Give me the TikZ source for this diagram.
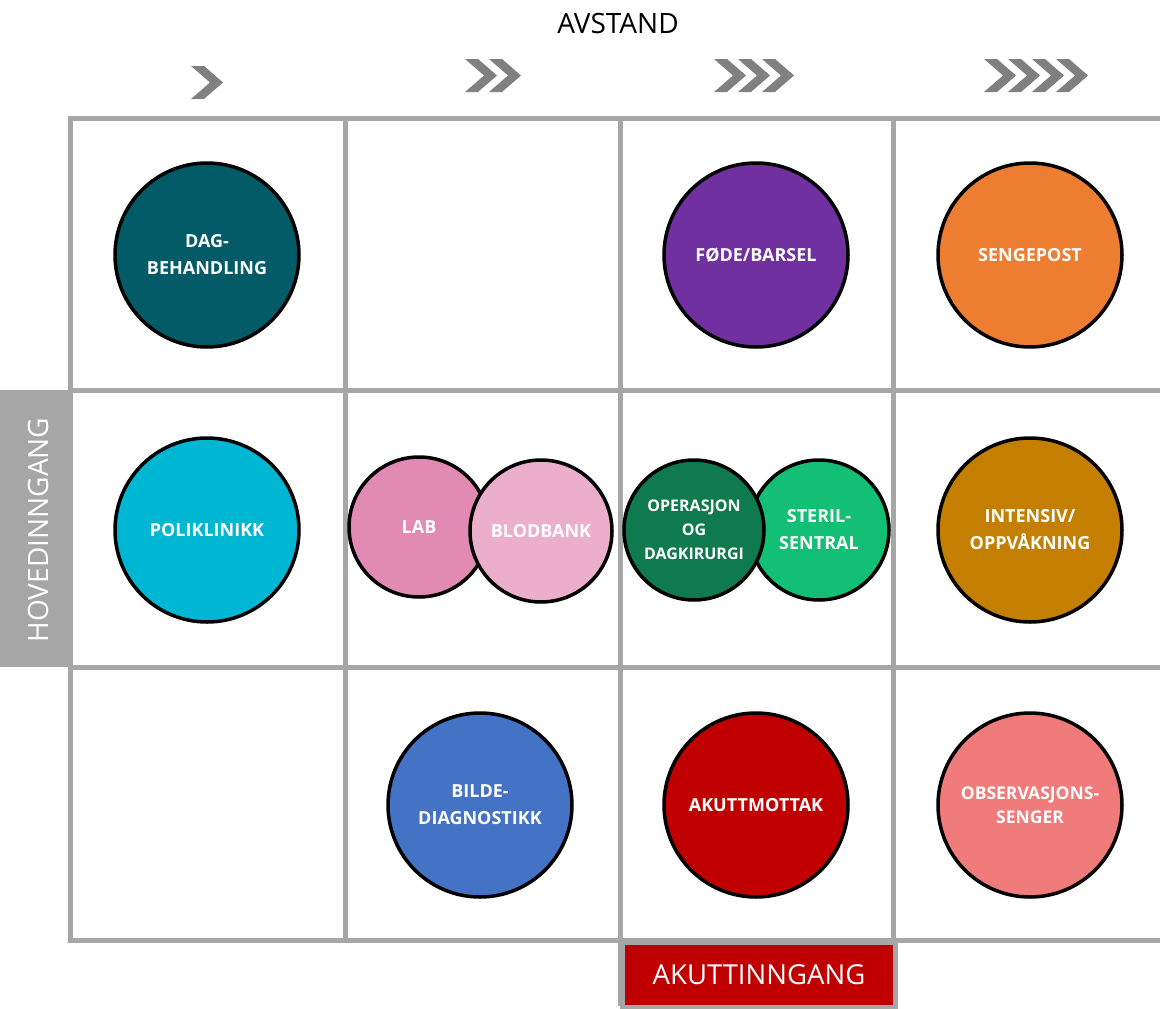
\documentclass[tikz,border=0pt]{standalone}
\usepackage{fontspec}
\setmainfont{Open Sans}
\definecolor{gridgray}{HTML}{A6A6A6}
\definecolor{chevgray}{HTML}{808080}
\definecolor{cDag}{HTML}{035B68}
\definecolor{cFode}{HTML}{7030A0}
\definecolor{cSenge}{HTML}{ED7D31}
\definecolor{cPoli}{HTML}{00B7D3}
\definecolor{cLab}{HTML}{E08AB4}
\definecolor{cBlod}{HTML}{EBAFCB}
\definecolor{cOper}{HTML}{0E7A4E}
\definecolor{cSteril}{HTML}{12BF74}
\definecolor{cInt}{HTML}{C47F00}
\definecolor{cBilde}{HTML}{4472C4}
\definecolor{cAkutt}{HTML}{C00000}
\definecolor{cObs}{HTML}{F07B7B}
\begin{document}
\begin{tikzpicture}[x=1pt,y=-1pt,
  gridline/.style={draw=gridgray,line width=5pt},
  room/.style={circle,draw=black,line width=3.5pt,minimum size=#1,inner sep=0pt,
    text=white,align=center,font=\bfseries\fontsize{18}{27}\selectfont},
  chevron/.style={fill=chevgray}]
\useasboundingbox (0,0) rectangle (1160,1009);
% gray entrance box
\fill[gridgray] (0,390) rectangle (70,667);
\node[rotate=90,text=white,font=\fontsize{28}{32}\selectfont] (hoved) at (38,530) {HOVEDINNGANG};
% grid
\foreach \y in {118,390,667,940} \draw[gridline] (68,\y) -- (1160,\y);
\foreach \x in {70,345} \draw[gridline] (\x,116) -- (\x,942);
\foreach \x in {620,893} \draw[gridline] (\x,116) -- (\x,1006);
% acute entrance
\node[draw=gridgray,line width=5pt,fill=cAkutt,minimum width=273pt,minimum height=65pt,inner sep=0pt,
  text=white,font=\fontsize{27.5}{32}\selectfont,anchor=north west] (akuttinn) at (620,940) {AKUTTINNGANG};
% title
\node[font=\fontsize{28}{32}\selectfont] (avstand) at (618,23) {AVSTAND};
% chevrons
\def\chev#1#2{\fill[chevgray] (#1,#2) -- ++(13,0) -- ++(19,16.5) -- ++(-19,16.5) -- ++(-13,0) -- ++(19,-16.5) -- cycle;}
\chev{191}{66}
\foreach \i in {0,1} {\chev{465+24*\i}{59}}
\foreach \i in {0,1,2} {\chev{714+24*\i}{59}}
\foreach \i in {0,1,2,3} {\chev{984+24*\i}{59}}
% rooms
\node[room=184pt,fill=cDag] (dag) at (207,255) {DAG-\\BEHANDLING};
\node[room=184pt,fill=cFode] (fode) at (756,255) {FØDE/BARSEL};
\node[room=184pt,fill=cSenge] (senge) at (1030,255) {SENGEPOST};
\node[room=184pt,fill=cPoli] (poli) at (207,530) {POLIKLINIKK};
\node[room=140pt,fill=cLab] (lab) at (419,527) {LAB};
\node[room=142pt,fill=cBlod] (blod) at (541,531) {BLODBANK};
\node[room=140pt,fill=cSteril] (steril) at (819,530) {STERIL-\\SENTRAL};
\node[room=140pt,fill=cOper,font=\bfseries\fontsize{16}{24}\selectfont] (oper) at (694,530) {OPERASJON\\OG\\DAGKIRURGI};
\node[room=184pt,fill=cInt] (int) at (1030,530) {INTENSIV/\\OPPVÅKNING};
\node[room=184pt,fill=cBilde] (bilde) at (480,805) {BILDE-\\DIAGNOSTIKK};
\node[room=184pt,fill=cAkutt] (akutt) at (756,805) {AKUTTMOTTAK};
\node[room=184pt,fill=cObs,font=\bfseries\fontsize{17.5}{24}\selectfont] (obs) at (1030,805) {OBSERVASJONS-\\SENGER};
\end{tikzpicture}
\end{document}
